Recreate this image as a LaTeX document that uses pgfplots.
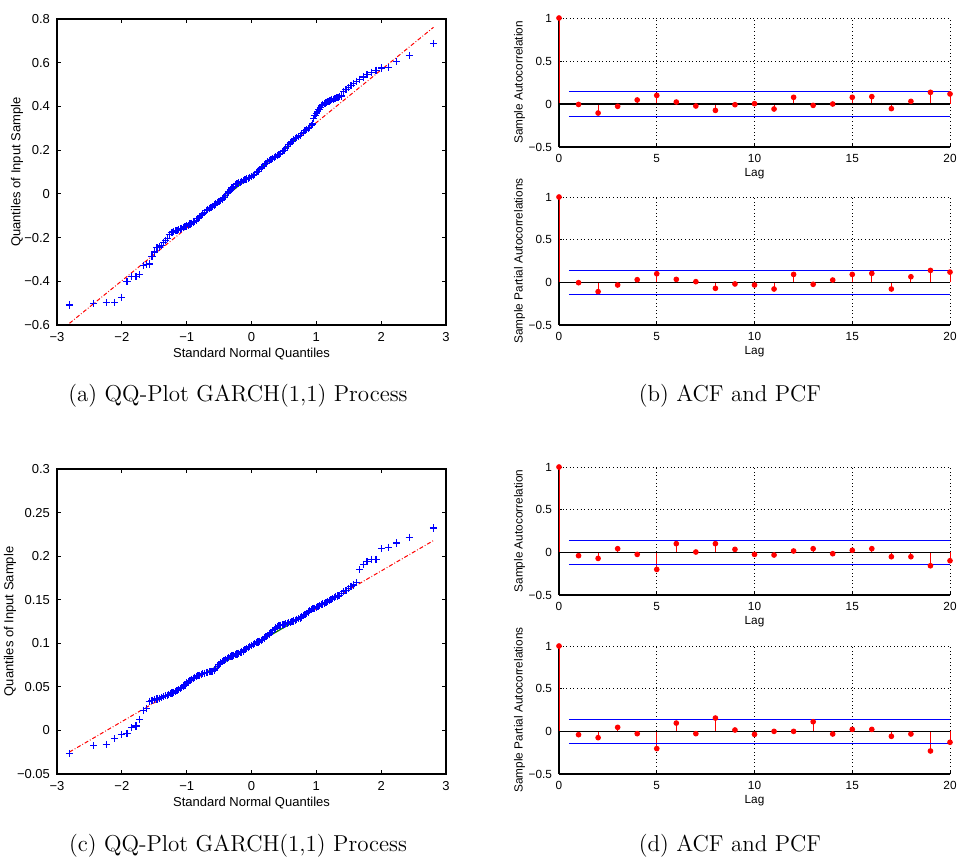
\documentclass[border=0pt]{standalone}
\usepackage{fontspec}
\newfontfamily\helv{Liberation Sans}
\usepackage{pgfplots}
\pgfplotsset{compat=1.18}
\definecolor{mgreen}{rgb}{0,0.5,0}
\pgfplotsset{
  qq/.style={
    scale only axis, width=194.5pt,
    xmin=-3, xmax=3,
    xtick={-3,-2,-1,0,1,2,3}, xticklabels={−3,−2,−1,0,1,2,3},
    tick align=inside, major tick length=2pt,
    axis line style={line width=0.6pt},
    every tick/.style={black, line width=0.45pt},
    every tick label/.append style={font=\helv\fontsize{6.5}{7.5}\selectfont},
    label style={font=\helv\fontsize{6.5}{7.5}\selectfont},
    xlabel={Standard Normal Quantiles},
    xlabel style={yshift=3.5pt},
    ylabel={Quantiles of Input Sample},
  },
  acf/.style={
    scale only axis, width=195.5pt, height=64pt,
    xmin=0, xmax=20, ymin=-0.5, ymax=1,
    xtick={0,5,10,15,20}, xticklabels={0,5,10,15,20},
    ytick={-0.5,0,0.5,1}, yticklabels={−0.5,0,0.5,1},
    axis x line=bottom, axis y line=left,
    axis line style={-, line width=0.6pt},
    grid=major, grid style={black, line width=0.35pt, dash pattern=on 0.4pt off 1.4pt},
    tick align=inside, major tick length=1.5pt,
    every tick/.style={black, line width=0.45pt},
    every tick label/.append style={font=\helv\fontsize{5.9}{7}\selectfont},
    label style={font=\helv\fontsize{5.9}{7}\selectfont},
    xlabel={Lag},
    xlabel style={yshift=4pt},
    ylabel style={at={(axis description cs:-0.101,0.5)}, anchor=center},
    clip=false,
  },
  qqpts/.style={only marks, mark=+, color=blue, mark size=1.8pt, mark options={draw=blue, line width=0.6pt}},
  qqline/.style={red, line width=0.5pt, dash pattern=on 2pt off 1pt on 0.4pt off 1pt},
  stems/.style={red, line width=0.5pt, ycomb, mark=*, mark size=1.15pt, mark options={fill=red, draw=red}},
  zline/.style={black, line width=0.7pt},
  bline/.style={blue, line width=0.7pt},
}
\begin{document}
\begin{tikzpicture}
\path[use as bounding box] (0,0) rectangle (478.5pt,-429.5pt);
% (a) QQ plot
\begin{axis}[qq, at={(28.5pt,-162.5pt)}, anchor=south west, height=153pt,
  ymin=-0.6, ymax=0.8, ytick={-0.6,-0.4,-0.2,0,0.2,0.4,0.6,0.8},
  yticklabels={−0.6,−0.4,−0.2,0,0.2,0.4,0.6,0.8},
  ylabel style={at={(axis description cs:-0.1028,0.5)}, anchor=center}]
\addplot[qqpts] coordinates {
(-2.807,-0.508)(-2.432,-0.500)(-2.241,-0.498)(-2.108,-0.497)(-2.005,-0.473)
(-1.919,-0.402)(-1.845,-0.379)(-1.780,-0.377)(-1.722,-0.370)(-1.669,-0.327)
(-1.621,-0.324)(-1.576,-0.321)(-1.534,-0.286)(-1.495,-0.266)(-1.457,-0.246)
(-1.422,-0.243)(-1.388,-0.238)(-1.356,-0.222)(-1.326,-0.212)(-1.296,-0.206)
(-1.268,-0.186)(-1.240,-0.178)(-1.213,-0.176)
(-1.200,-0.172)(-1.175,-0.169)(-1.150,-0.166)(-1.125,-0.164)(-1.100,-0.161)
(-1.075,-0.157)(-1.050,-0.153)(-1.025,-0.150)(-1.000,-0.147)(-0.975,-0.143)
(-0.950,-0.138)(-0.925,-0.134)(-0.900,-0.129)(-0.875,-0.125)(-0.850,-0.120)
(-0.825,-0.113)(-0.800,-0.106)(-0.775,-0.099)(-0.750,-0.092)(-0.725,-0.084)
(-0.700,-0.077)(-0.675,-0.071)(-0.650,-0.066)(-0.625,-0.061)(-0.600,-0.056)
(-0.575,-0.051)(-0.550,-0.046)(-0.525,-0.040)(-0.500,-0.034)(-0.475,-0.029)
(-0.450,-0.023)(-0.425,-0.016)(-0.400,-0.009)(-0.375,0.000)(-0.350,0.009)
(-0.325,0.018)(-0.300,0.027)(-0.275,0.035)(-0.250,0.042)(-0.225,0.047)
(-0.200,0.050)(-0.175,0.053)(-0.150,0.056)(-0.125,0.060)(-0.100,0.064)
(-0.075,0.068)(-0.050,0.072)(-0.025,0.076)(0.000,0.080)(0.025,0.085)
(0.050,0.090)(0.075,0.096)(0.100,0.103)(0.125,0.110)(0.150,0.118)
(0.175,0.126)(0.200,0.133)(0.225,0.140)(0.250,0.147)(0.275,0.152)
(0.300,0.157)(0.325,0.162)(0.350,0.166)(0.375,0.170)(0.400,0.175)
(0.425,0.180)(0.450,0.186)(0.475,0.193)(0.500,0.200)(0.525,0.208)
(0.550,0.216)(0.575,0.225)(0.600,0.233)(0.625,0.240)(0.650,0.247)
(0.675,0.253)(0.700,0.258)(0.725,0.263)(0.750,0.268)(0.775,0.275)
(0.800,0.282)(0.825,0.289)(0.850,0.295)(0.875,0.300)(0.900,0.305)
(0.925,0.312)(0.945,0.320)(0.96,0.345)(0.98,0.360)(1.00,0.368)
(1.02,0.376)(1.04,0.385)(1.06,0.395)(1.08,0.403)(1.10,0.410)
(1.12,0.413)(1.14,0.416)(1.16,0.419)(1.18,0.421)(1.20,0.425)
(1.22,0.428)(1.24,0.431)(1.26,0.433)(1.28,0.435)(1.30,0.437)
(1.32,0.440)(1.34,0.442)(1.36,0.446)
(1.388,0.448)(1.422,0.470)(1.457,0.476)(1.495,0.486)(1.534,0.496)
(1.576,0.505)(1.621,0.515)(1.669,0.524)(1.722,0.535)(1.780,0.546)
(1.845,0.556)(1.919,0.566)(2.005,0.576)(2.108,0.577)(2.241,0.607)
(2.432,0.632)(2.807,0.688)
};
\addplot[qqline] coordinates {(-2.807,-0.592)(2.807,0.762)};
\addplot[mgreen, line width=0.6pt] coordinates {(-0.674,-0.077)(0.674,0.247)};
\end{axis}
% (c) QQ plot
\begin{axis}[qq, at={(28.5pt,-387pt)}, anchor=south west, height=152.5pt,
  ymin=-0.05, ymax=0.3, ytick={-0.05,0,0.05,0.1,0.15,0.2,0.25,0.3},
  yticklabels={−0.05,0,0.05,0.1,0.15,0.2,0.25,0.3},
  ylabel style={at={(axis description cs:-0.1208,0.5)}, anchor=center}]
\addplot[qqpts] coordinates {
(-2.807,-0.0263)(-2.432,-0.0176)(-2.241,-0.0160)(-2.108,-0.0092)(-2.005,-0.0046)
(-1.919,-0.0034)(-1.845,0.0030)(-1.780,0.0050)(-1.722,0.0126)(-1.669,0.0232)
(-1.621,0.0252)(-1.576,0.0335)(-1.534,0.0347)(-1.495,0.0352)(-1.457,0.0362)
(-1.422,0.0370)(-1.388,0.0378)(-1.356,0.0390)(-1.326,0.0400)(-1.296,0.0405)
(-1.275,0.0412)(-1.250,0.0420)(-1.225,0.0429)(-1.200,0.0438)(-1.175,0.0446)
(-1.150,0.0455)(-1.125,0.0466)(-1.100,0.0478)(-1.075,0.0489)(-1.050,0.0500)
(-1.025,0.0522)(-1.000,0.0545)(-0.975,0.0560)(-0.950,0.0575)(-0.925,0.0588)
(-0.900,0.0600)(-0.875,0.0610)(-0.850,0.0620)(-0.825,0.0628)(-0.800,0.0635)
(-0.775,0.0643)(-0.750,0.0650)(-0.725,0.0658)(-0.700,0.0665)(-0.675,0.0668)
(-0.650,0.0672)(-0.625,0.0676)(-0.600,0.0680)(-0.575,0.0693)(-0.550,0.0710)
(-0.525,0.0732)(-0.500,0.0755)(-0.475,0.0773)(-0.450,0.0790)(-0.425,0.0803)
(-0.400,0.0815)(-0.375,0.0827)(-0.350,0.0838)(-0.325,0.0847)(-0.300,0.0855)
(-0.275,0.0863)(-0.250,0.0870)(-0.225,0.0878)(-0.200,0.0885)(-0.175,0.0892)
(-0.150,0.0900)(-0.125,0.0912)(-0.100,0.0925)(-0.075,0.0938)(-0.050,0.0950)
(-0.025,0.0963)(0.000,0.0975)(0.025,0.0985)(0.050,0.0995)(0.075,0.1005)
(0.100,0.1015)(0.125,0.1025)(0.150,0.1035)(0.175,0.1047)(0.200,0.1060)
(0.225,0.1075)(0.250,0.1090)(0.275,0.1107)(0.300,0.1125)(0.325,0.1143)
(0.350,0.1160)(0.375,0.1175)(0.400,0.1190)(0.425,0.1200)(0.450,0.1208)
(0.475,0.1214)(0.500,0.1220)(0.525,0.1225)(0.550,0.1230)(0.575,0.1236)
(0.600,0.1242)(0.625,0.1248)(0.650,0.1255)(0.675,0.1265)(0.700,0.1275)
(0.725,0.1282)(0.750,0.1290)(0.775,0.1302)(0.800,0.1315)(0.825,0.1330)
(0.850,0.1345)(0.875,0.1360)(0.900,0.1375)(0.925,0.1385)(0.950,0.1395)
(0.975,0.1402)(1.000,0.1410)(1.025,0.1421)(1.050,0.1432)(1.075,0.1441)
(1.100,0.1450)(1.125,0.1459)(1.150,0.1468)(1.175,0.1479)(1.200,0.1490)
(1.225,0.1500)(1.250,0.1510)(1.275,0.1522)(1.300,0.1535)(1.325,0.1542)
(1.350,0.1550)
(1.388,0.1570)(1.422,0.1590)(1.457,0.1610)(1.495,0.1630)(1.534,0.1655)
(1.576,0.1670)(1.621,0.1695)(1.669,0.1843)(1.722,0.1904)(1.780,0.1939)
(1.845,0.1961)(1.919,0.1965)(2.005,0.2084)(2.108,0.2102)(2.241,0.2152)
(2.432,0.2217)(2.807,0.2324)
};
\addplot[qqline] coordinates {(-2.807,-0.0247)(2.807,0.2179)};
\addplot[mgreen, line width=0.6pt] coordinates {(-0.674,0.0675)(0.674,0.1257)};
\end{axis}
% (b) ACF
\begin{axis}[acf, at={(279.5pt,-73.5pt)}, anchor=south west, height=64.5pt,
  ylabel={Sample Autocorrelation}]
\addplot[stems] coordinates {(0,1)(1,-0.005)(2,-0.105)(3,-0.027)(4,0.047)(5,0.10)(6,0.023)(7,-0.023)(8,-0.074)(9,-0.008)(10,0.004)(11,-0.058)(12,0.078)(13,-0.016)(14,0.0)(15,0.078)(16,0.086)(17,-0.054)(18,0.031)(19,0.136)(20,0.117)};
\addplot[zline] coordinates {(0,0)(20,0)};
\addplot[bline] coordinates {(0.5,0.144)(20,0.144)};
\addplot[bline] coordinates {(0.5,-0.144)(20,-0.144)};
\end{axis}
% (b) PACF
\begin{axis}[acf, at={(279.5pt,-162.5pt)}, anchor=south west,
  ylabel={Sample Partial Autocorrelations}]
\addplot[stems] coordinates {(0,1)(1,-0.004)(2,-0.109)(3,-0.031)(4,0.031)(5,0.101)(6,0.035)(7,0.008)(8,-0.07)(9,-0.019)(10,-0.031)(11,-0.078)(12,0.093)(13,-0.023)(14,0.027)(15,0.093)(16,0.105)(17,-0.078)(18,0.066)(19,0.14)(20,0.12)};
\addplot[zline] coordinates {(0,0)(20,0)};
\addplot[bline] coordinates {(0.5,0.14)(20,0.14)};
\addplot[bline] coordinates {(0.5,-0.14)(20,-0.14)};
\end{axis}
% (d) ACF
\begin{axis}[acf, at={(279.5pt,-297.5pt)}, anchor=south west,
  ylabel={Sample Autocorrelation}]
\addplot[stems] coordinates {(0,1)(1,-0.039)(2,-0.071)(3,0.043)(4,-0.024)(5,-0.2)(6,0.102)(7,0.004)(8,0.102)(9,0.035)(10,-0.024)(11,-0.031)(12,0.016)(13,0.043)(14,-0.016)(15,0.024)(16,0.043)(17,-0.051)(18,-0.051)(19,-0.157)(20,-0.098)};
\addplot[zline] coordinates {(0,0)(20,0)};
\addplot[bline] coordinates {(0.5,0.141)(20,0.141)};
\addplot[bline] coordinates {(0.5,-0.141)(20,-0.141)};
\end{axis}
% (d) PACF
\begin{axis}[acf, at={(279.5pt,-387pt)}, anchor=south west,
  ylabel={Sample Partial Autocorrelations}]
\addplot[stems] coordinates {(0,1)(1,-0.039)(2,-0.074)(3,0.047)(4,-0.027)(5,-0.202)(6,0.097)(7,-0.027)(8,0.156)(9,0.016)(10,-0.035)(11,0)(12,0)(13,0.113)(14,-0.031)(15,0.023)(16,0.023)(17,-0.058)(18,-0.031)(19,-0.23)(20,-0.128)};
\addplot[zline] coordinates {(0,0)(20,0)};
\addplot[bline] coordinates {(0.5,0.14)(20,0.14)};
\addplot[bline] coordinates {(0.5,-0.14)(20,-0.14)};
\end{axis}
% captions
\node[font=\fontsize{11.5}{13}\selectfont] at (119pt,-198pt) {(a) QQ-Plot GARCH(1,1) Process};
\node[font=\fontsize{11.5}{13}\selectfont] at (365pt,-198pt) {(b) ACF and PCF};
\node[font=\fontsize{11.5}{13}\selectfont] at (119pt,-423pt) {(c) QQ-Plot GARCH(1,1) Process};
\node[font=\fontsize{11.5}{13}\selectfont] at (365pt,-423pt) {(d) ACF and PCF};
\end{tikzpicture}
\end{document}
